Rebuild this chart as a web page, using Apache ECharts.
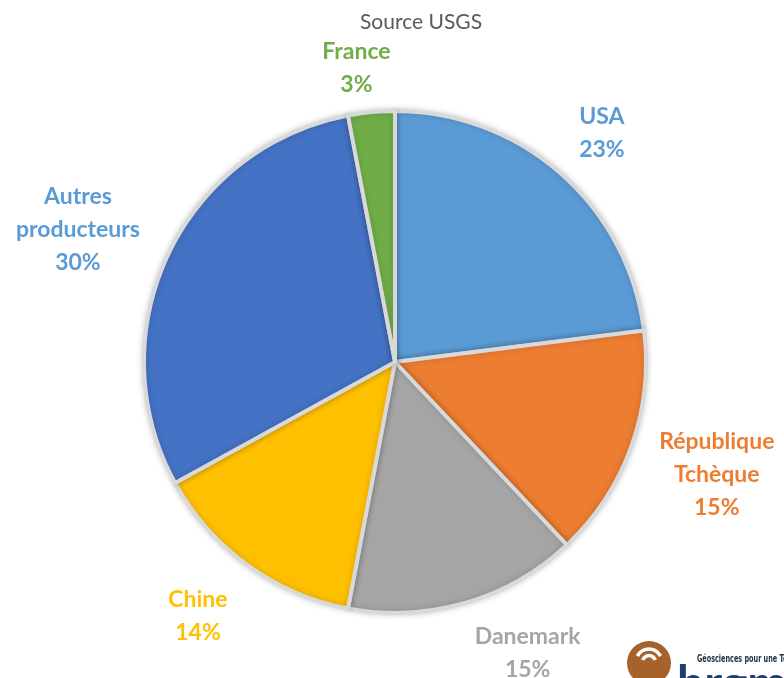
<!DOCTYPE html>
<html><head><meta charset="utf-8">
<script src="https://cdn.jsdelivr.net/npm/echarts@6/dist/echarts.min.js"></script>
<style>html,body{margin:0;padding:0;background:#fff}#c{width:784px;height:678px}</style>
</head><body><div id="c"></div>
<script>
const categories = ['USA', 'République Tchèque', 'Danemark', 'Chine', 'Autres producteurs', 'France'];
const shares = [23, 15, 15, 14, 30, 3];
const sliceColors = ['#5B9BD5', '#ED7D31', '#A5A5A5', '#FFC000', '#4472C4', '#70AD47'];
const labelColors = ['#5B9BD5', '#ED7D31', '#A5A5A5', '#FFC000', '#5B9BD5', '#70AD47'];
const sourceText = 'Source USGS';

// label nudges (pixels) relative to the ring position, to mimic Excel's best-fit placement
const labelNudges = [[-8, 15], [16, 2], [42, -21], [-6, -9], [-23, 6], [-8, 30]];

const chart = echarts.init(document.getElementById('c'));
const center = [395, 362];
chart.setOption({
  animation: false,
  title: {
    text: sourceText, left: 355, top: 7,
    textStyle: { fontFamily: 'Lato', fontWeight: 'normal', fontSize: 21, color: '#595959' }
  },
  series: [
    {
      type: 'pie', center: center, radius: [0, 251], startAngle: 90, clockwise: true,
      silent: true, label: { show: false }, labelLine: { show: false },
      itemStyle: { borderColor: '#D9D9D9', borderWidth: 4, shadowBlur: 6, shadowColor: 'rgba(0,0,0,0.18)' },
      data: categories.map((n, i) => ({ name: n, value: shares[i], itemStyle: { color: sliceColors[i] } }))
    },
    {
      type: 'pie', center: center, radius: [262, 382], startAngle: 90, clockwise: true,
      silent: true, labelLine: { show: false },
      itemStyle: { color: 'rgba(0,0,0,0)' },
      label: {
        show: true, position: 'inside', fontFamily: 'Lato', fontWeight: 'bold', fontSize: 23, lineHeight: 33,
        formatter: p => p.name.replace(' ', '\n') + '\n' + p.value + '%'
      },
      labelLayout: p => ({ dx: labelNudges[p.dataIndex][0], dy: labelNudges[p.dataIndex][1] }),
      data: categories.map((n, i) => ({ name: n, value: shares[i], label: { color: labelColors[i] } }))
    }
  ],
  graphic: [
    { type: 'circle', shape: { cx: 649, cy: 663, r: 22 }, style: { fill: '#A5622B' } },
    { type: 'arc', shape: { cx: 649, cy: 662, r: 13, startAngle: Math.PI * 1.15, endAngle: Math.PI * 1.85 }, style: { stroke: '#fff', lineWidth: 3.5, fill: null } },
    { type: 'arc', shape: { cx: 649, cy: 662, r: 6.5, startAngle: Math.PI * 1.1, endAngle: Math.PI * 1.9 }, style: { stroke: '#fff', lineWidth: 3.5, fill: null } },
    { type: 'text', x: 697, y: 654, scaleX: 0.72, style: { text: 'Géosciences pour une Terre durable', fontFamily: 'DejaVu Sans Condensed', fontWeight: 'bold', fontSize: 10, fill: '#23304A' } },
    { type: 'text', x: 677, y: 661, style: { text: 'brgm', fontFamily: 'Lato', fontWeight: 'bold', fontSize: 48, fill: '#1F3F6E' } }
  ]
});
</script></body></html>
